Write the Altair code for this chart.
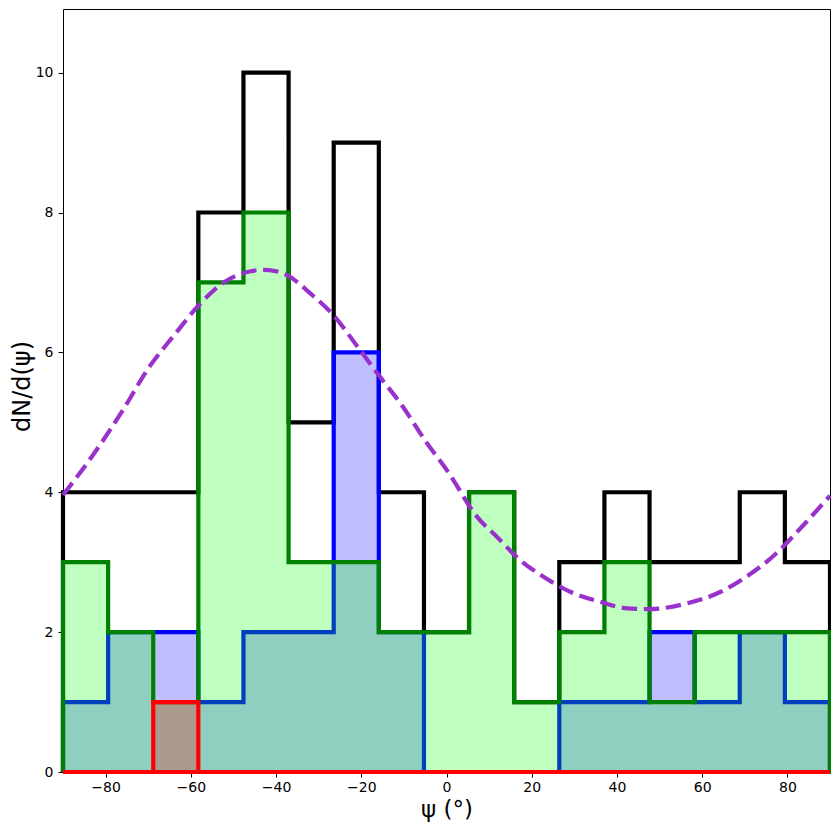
import altair as alt
import pandas as pd

# ---- data ----
bin_edges = [-90.0, -79.41, -68.82, -58.24, -47.65, -37.06, -26.47, -15.88, -5.29,
             5.29, 15.88, 26.47, 37.06, 47.65, 58.24, 68.82, 79.41, 90.0]
total_counts = [4, 4, 4, 8, 10, 5, 9, 4, 2, 4, 1, 3, 4, 3, 3, 4, 3]
green_counts = [3, 2, 1, 7, 8, 3, 3, 2, 2, 4, 1, 2, 3, 1, 2, 2, 2]
blue_counts = [1, 2, 2, 1, 2, 2, 6, 2, 0, 0, 0, 1, 1, 2, 1, 2, 1]
red_counts = [0, 0, 1, 0, 0, 0, 0, 0, 0, 0, 0, 0, 0, 0, 0, 0, 0]

curve_psi = [-90, -83.8, -76, -70, -63.6, -58.2, -52, -46, -43, -40, -37.3, -31.9,
             -26.5, -21.1, -15.6, -10.2, -4.8, 0.6, 6.9, 12.2, 16.9, 22.3, 29.3,
             36.3, 42.4, 47.5, 56.4, 64.1, 70.3, 77.3, 82.7, 90]
curve_val = [3.96, 4.46, 5.17, 5.77, 6.27, 6.67, 7.01, 7.16, 7.18, 7.16, 7.10, 6.84,
             6.53, 6.10, 5.65, 5.22, 4.72, 4.27, 3.67, 3.34, 3.05, 2.81, 2.57,
             2.43, 2.34, 2.33, 2.41, 2.57, 2.79, 3.12, 3.46, 3.95]

x_ticks = [-80, -60, -40, -20, 0, 20, 40, 60, 80]
y_ticks = [0, 2, 4, 6, 8, 10]


def outline_df(counts):
    xs, ys = [bin_edges[0]], [0]
    for i, c in enumerate(counts):
        xs += [bin_edges[i], bin_edges[i + 1]]
        ys += [c, c]
    xs += [bin_edges[-1], bin_edges[0]]
    ys += [0, 0]
    return pd.DataFrame({"psi": xs, "n": ys, "k": list(range(len(xs)))})


def fill_df(counts):
    return pd.DataFrame({"psi": bin_edges, "n": list(counts) + [counts[-1]]})


FONT = "DejaVu Sans"
x_scale = alt.Scale(domain=[-90, 90], nice=False, zero=False)
y_scale = alt.Scale(domain=[0, 10.91], nice=False, zero=False)
x_axis = alt.Axis(values=x_ticks, title="ψ (°)", grid=False, domain=False,
                  tickSize=5, tickColor="black", tickWidth=1, labelPadding=3,
                  labelFont=FONT, labelFontSize=14, labelColor="black", labelFlush=False,
                  titleFont=FONT, titleFontSize=23, titleFontWeight="normal",
                  titleColor="black", titleY=37, titleBaseline="middle")
y_axis = alt.Axis(values=y_ticks, title="dN/d(ψ)", grid=False, domain=False,
                  tickSize=5, tickColor="black", tickWidth=1, labelPadding=5,
                  labelFont=FONT, labelFontSize=14, labelColor="black", labelFlush=False,
                  titleFont=FONT, titleFontSize=24, titleFontWeight="normal",
                  titleColor="black", titleX=-41, titleY=377, titleAngle=270,
                  titleAlign="center", titleBaseline="middle")

X = alt.X("psi:Q", scale=x_scale, axis=x_axis)
Y = alt.Y("n:Q", scale=y_scale, axis=y_axis)
LW = 4.2


def step_line(counts, color):
    return alt.Chart(outline_df(counts)).mark_line(
        color=color, strokeWidth=LW, strokeJoin="miter", strokeCap="butt"
    ).encode(x=X, y=Y, order="k:Q")


def step_fill(counts, color):
    return alt.Chart(fill_df(counts)).mark_area(
        color=color, opacity=0.25, interpolate="step-after"
    ).encode(x=X, y=Y)


curve = alt.Chart(pd.DataFrame({"psi": curve_psi, "n": curve_val})).mark_line(
    color="#9932CC", strokeWidth=LW, strokeDash=[15.4, 6.7], interpolate="monotone"
).encode(x=X, y=Y)

chart = alt.layer(
    step_line(total_counts, "black"),
    step_fill(blue_counts, "#0000ff"),
    step_line(blue_counts, "#0000ff"),
    step_fill(green_counts, "#00ff00"),
    step_line(green_counts, "#008000"),
    step_fill(red_counts, "#ff0000"),
    step_line(red_counts, "#ff0000"),
    curve,
).properties(
    width=767, height=763,
    autosize=alt.AutoSizeParams(type="none"),
    padding={"left": 55, "top": 1, "right": 1, "bottom": 51},
    background="white",
).configure_view(stroke="black", strokeWidth=1)

chart.save("out.html", embed_options={"renderer": "svg", "actions": False})
